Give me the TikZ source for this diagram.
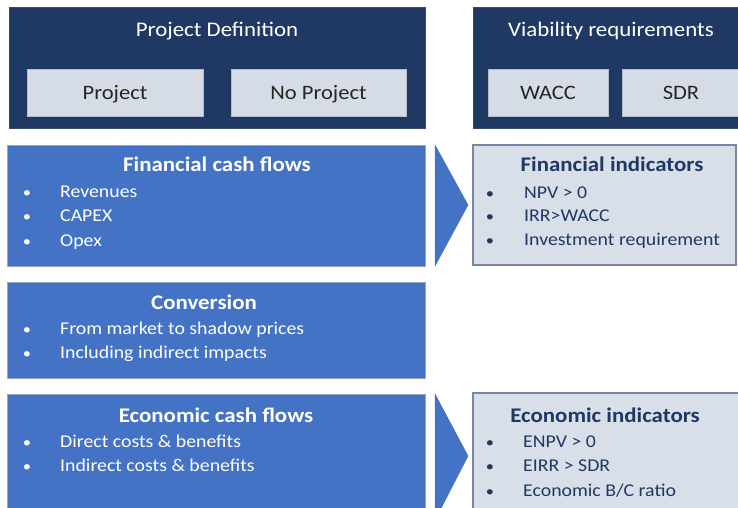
\documentclass[tikz,border=0pt]{standalone}
\usepackage{fontspec}
\setmainfont{Carlito}[FakeStretch=1.1]
\usetikzlibrary{calc}
\definecolor{navy}{HTML}{203864}
\definecolor{navyedge}{HTML}{3B4C6E}
\definecolor{cellfill}{HTML}{D6DCE5}
\definecolor{celledge}{HTML}{B4BCC9}
\definecolor{flowblue}{HTML}{4472C4}
\definecolor{flowedge}{HTML}{9AA6BB}
\definecolor{indfill}{HTML}{D9DFE8}
\definecolor{indedge}{HTML}{7787A3}
\definecolor{indtext}{HTML}{1F3864}

\tikzset{
  panel/.style={anchor=north west, inner sep=0pt, outer sep=0pt},
  headbox/.style={panel, fill=navy, draw=navyedge, line width=1pt},
  cellbox/.style={panel, fill=cellfill, draw=celledge, line width=0.8pt},
  flowbox/.style={panel, fill=flowblue, draw=flowedge, line width=0.8pt},
  indbox/.style={panel, fill=indfill, draw=indedge, line width=1.3pt},
  headtitle/.style={anchor=base, inner sep=0pt, text=white, font=\fontsize{20.8}{21}\selectfont},
  celltext/.style={anchor=base, inner sep=0pt, text=black!85, font=\fontsize{20.5}{21}\selectfont},
  boxtitle/.style={anchor=base, inner sep=0pt, font=\bfseries\fontsize{20.8}{21}\selectfont},
  bulletmark/.style={anchor=base, inner sep=0pt, font=\fontsize{15}{15}\selectfont},
  itemtext/.style={anchor=base west, inner sep=0pt, font=\fontsize{18}{18}\selectfont},
  chevron/.style={fill=flowblue, draw=flowblue!90!gray, line width=0.5pt, line join=miter}
}

% one bulleted line: name, bullet x, text x, baseline y, text
\newcommand\itemline[5]{%
  \node[bulletmark] (#1b) at (#2,#4) {\textbullet};
  \node[itemtext] (#1) at (#3,#4) {#5};}

\begin{document}
\begin{tikzpicture}[x=1pt,y=-1pt]
\useasboundingbox (0,0) rectangle (738,508);
\clip (0,0) rectangle (738,508);

% header panels
\node[headbox, minimum width=416pt, minimum height=120pt] (pd) at (9,8) {};
\node[headtitle] (pdt) at (217,37) {Project Definition};
\node[cellbox, minimum width=176pt, minimum height=47pt] (proj) at (27,69) {};
\node[celltext] at (proj.center) [yshift=-7pt] {Project};
\node[cellbox, minimum width=175pt, minimum height=47pt] (noproj) at (231,69) {};
\node[celltext] at (noproj.center) [yshift=-7pt] {No Project};

\node[headbox, minimum width=280pt, minimum height=120pt] (vr) at (473,8) {};
\node[headtitle] (vrt) at (611,37) {Viability requirements};
\node[cellbox, minimum width=120pt, minimum height=47pt] (wacc) at (488,69) {};
\node[celltext] at (wacc.center) [yshift=-7pt] {WACC};
\node[cellbox, minimum width=130pt, minimum height=47pt] (sdr) at (622,69) {};
\node[celltext] at (681,100) {SDR};

% financial cash flows
\node[flowbox, minimum width=418pt, minimum height=121pt] (fcf) at (7,145) {};
\begin{scope}[text=white]
\node[boxtitle] (fcft) at (217,171) {Financial cash flows};
\itemline{rev}{27}{60}{197}{Revenues}
\itemline{capex}{27}{60}{221}{CAPEX}
\itemline{opex}{27}{60}{246}{Opex}
\end{scope}

% financial indicators
\node[indbox, minimum width=263pt, minimum height=120pt] (fi) at (473,145) {};
\begin{scope}[text=indtext]
\node[boxtitle] (fit) at (612,171) {Financial indicators};
\itemline{npv}{490}{524}{198}{NPV > 0}
\itemline{irr}{490}{524}{221}{IRR>WACC}
\itemline{inv}{490}{524}{245}{Investment requirement}
\end{scope}

% conversion
\node[flowbox, minimum width=418pt, minimum height=96pt] (conv) at (7,282) {};
\begin{scope}[text=white]
\node[boxtitle] (convt) at (204,309) {Conversion};
\itemline{shadow}{27}{60}{334}{From market to shadow prices}
\itemline{indir}{27}{60}{358}{Including indirect impacts}
\end{scope}

% economic cash flows
\node[flowbox, minimum width=418pt, minimum height=126pt] (ecf) at (7,394) {};
\begin{scope}[text=white]
\node[boxtitle] (ecft) at (216,422) {Economic cash flows};
\itemline{dcb}{27}{60}{447}{Direct costs \& benefits}
\itemline{icb}{27}{60}{471}{Indirect costs \& benefits}
\end{scope}

% economic indicators
\node[indbox, minimum width=280pt, minimum height=126pt] (ei) at (473,393) {};
\begin{scope}[text=indtext]
\node[boxtitle] (eit) at (605,422) {Economic indicators};
\itemline{enpv}{490}{523}{447}{ENPV > 0}
\itemline{eirr}{490}{523}{471}{EIRR > SDR}
\itemline{bc}{490}{523}{496}{Economic B/C ratio}
\end{scope}

% chevrons leading from cash flows to indicators
\path[chevron] ($(fcf.north east)+(10,0)$) -- ($(fi.west)+(-5,0)$) -- ($(fcf.south east)+(10,0)$) -- cycle;
\path[chevron] ($(ecf.north east)+(10,0)$) -- ($(ei.west)+(-5,0)$) -- ($(ecf.south east)+(10,0)$) -- cycle;
\end{tikzpicture}
\end{document}
